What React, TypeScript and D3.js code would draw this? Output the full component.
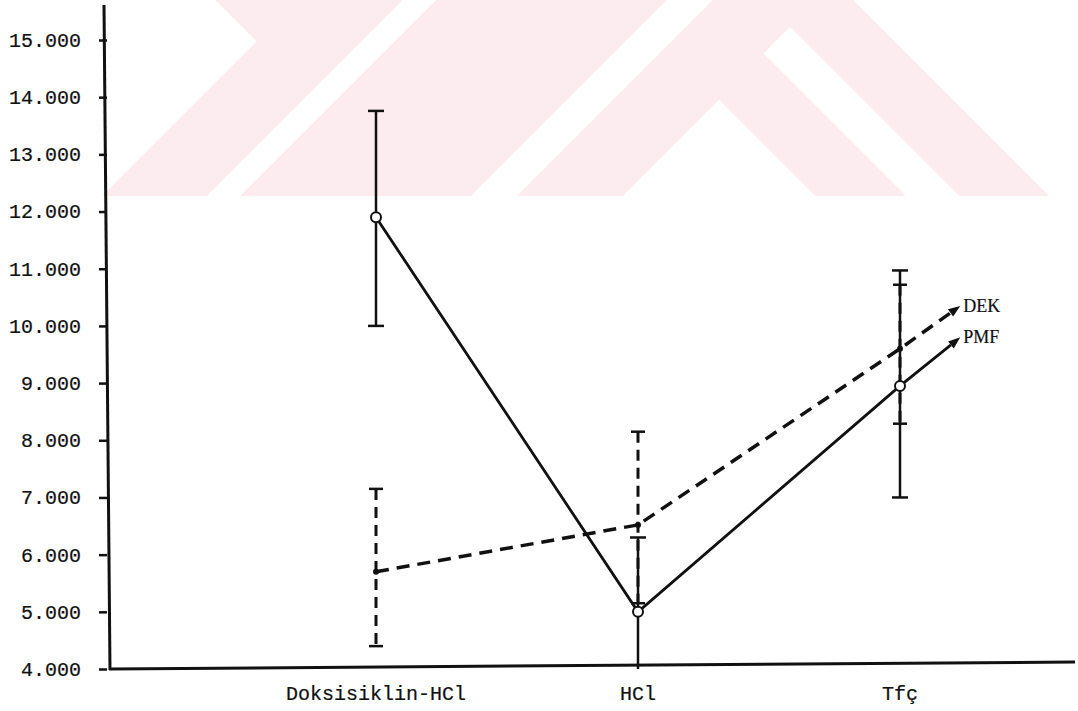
import React, { useEffect, useRef } from "react";
import * as d3 from "d3";

// ---- data ----
const categories = ["Doksisiklin-HCl", "HCl", "Tfç"];
const yTickValues = [4000, 5000, 6000, 7000, 8000, 9000, 10000, 11000, 12000, 13000, 14000, 15000];
const seriesNames = ["DEK", "PMF"];

const pmfMean = [11900, 5000, 8950];
const pmfLow = [10000, 3700, 7000];
const pmfHigh = [13760, 6300, 10970];

const dekMean = [5700, 6520, 9600];
const dekLow = [4400, 5150, 8290];
const dekHigh = [7150, 8150, 10720];

// values where the trend arrows end (past the last category)
const dekTrendEnd = 10350;
const pmfTrendEnd = 9800;

// ---- layout ----
const W = 1078;
const H = 711;
const axisX = 107;
const plotTop = 40;
const plotBottom = 669;
const axisRight = 1075;
const arrowExt = 0.23; // fraction of a category step
const monoFont = "'Liberation Mono', 'DejaVu Sans Mono', monospace";
const serifFont = "'Liberation Serif', 'DejaVu Serif', serif";
const ink = "#111";
const wmColor = "#fcecef";

const trFormat = d3.formatLocale({ decimal: ",", thousands: ".", grouping: [3], currency: ["", ""] }).format(",");

export default function App() {
  const axisRef = useRef<SVGGElement | null>(null);

  const y = d3.scaleLinear().domain([4000, 15000]).range([plotBottom, plotTop]);
  const x = d3.scalePoint<string>().domain(categories).range([376, 900]);
  const xEnd = (x(categories[categories.length - 1]) as number) + x.step() * arrowExt;

  useEffect(() => {
    if (!axisRef.current) return;
    const g = d3.select(axisRef.current);
    g.selectAll("*").remove();
    g.call(
      d3.axisLeft(y).tickValues(yTickValues).tickFormat((d) => trFormat(d as number)).tickSize(8).tickPadding(18)
    );
    g.select(".domain").remove();
    g.selectAll(".tick line").attr("stroke", ink).attr("stroke-width", 2.5);
    g.selectAll(".tick text")
      .attr("fill", ink)
      .attr("font-family", monoFont)
      .attr("font-size", 20)
      .attr("stroke", ink)
      .attr("stroke-width", 0.2);
    g.attr("font-family", null).attr("font-size", null);
  }, []);

  const line = d3.line<[number, number]>().x((d) => d[0]).y((d) => d[1]);

  const pmfPts: [number, number][] = categories.map((c, i) => [x(c) as number, y(pmfMean[i])]);
  const dekPts: [number, number][] = categories.map((c, i) => [x(c) as number, y(dekMean[i])]);

  const clampY = (v: number) => y(Math.max(4000, Math.min(15000, v)));

  const arrowHead = (from: [number, number], to: [number, number], L = 12, w = 4.5) => {
    const a = Math.atan2(to[1] - from[1], to[0] - from[0]);
    const bx = to[0] - L * Math.cos(a);
    const by = to[1] - L * Math.sin(a);
    const nx = -Math.sin(a) * w;
    const ny = Math.cos(a) * w;
    return {
      poly: `${to[0]},${to[1]} ${bx + nx},${by + ny} ${bx - nx},${by - ny}`,
      base: [bx, by] as [number, number],
    };
  };

  const pmfTip: [number, number] = [xEnd, y(pmfTrendEnd)];
  const dekTip: [number, number] = [xEnd, y(dekTrendEnd)];
  const pmfHead = arrowHead(pmfPts[pmfPts.length - 1], pmfTip);
  const dekHead = arrowHead(dekPts[dekPts.length - 1], dekTip);

  const capW = 8;

  return (
    <svg
      width={W}
      height={H}
      viewBox={`0 0 ${W} ${H}`}
      style={{ position: "absolute", left: 0, top: 0, background: "#fff" }}
    >
      <defs>
        <mask id="wmMask">
          <rect x={0} y={0} width={W} height={196} fill="white" />
          <polygon points="403,0 436,0 240,196 207,196" fill="black" />
          <polygon points="667,0 713,0 517,196 471,196" fill="black" />
          <polygon points="719,100 815,196 623,196" fill="black" />
          <polygon points="763.5,53.5 790,27 959,196 906,196" fill="black" />
        </mask>
      </defs>
      {/* watermark */}
      <polygon points="215,0 853,0 1049,196 102,196 256.5,41.5" fill={wmColor} mask="url(#wmMask)" />

      {/* axes */}
      <line x1={axisX - 3} y1={5} x2={axisX + 3} y2={plotBottom + 1} stroke={ink} strokeWidth={3} />
      <line x1={axisX + 2} y1={plotBottom} x2={axisRight} y2={plotBottom - 7} stroke={ink} strokeWidth={3} />
      <g ref={axisRef} transform={`translate(${axisX},0)`} />

      {/* x labels */}
      {categories.map((c) => (
        <text
          key={c}
          x={x(c)}
          y={700}
          textAnchor="middle"
          fontFamily={monoFont}
          fontSize={20}
          fill={ink}
          stroke={ink}
          strokeWidth={0.2}
        >
          {c}
        </text>
      ))}

      {/* DEK error bars (dashed) */}
      {categories.map((c, i) => {
        const cx = x(c) as number;
        return (
          <g key={"dekerr" + c} stroke={ink}>
            <line x1={cx} x2={cx} y1={clampY(dekHigh[i])} y2={clampY(dekLow[i])} strokeWidth={3} strokeDasharray="11,7" />
            <line x1={cx - 7} x2={cx + 7} y1={clampY(dekHigh[i])} y2={clampY(dekHigh[i])} strokeWidth={2.5} />
            <line x1={cx - 7} x2={cx + 7} y1={clampY(dekLow[i])} y2={clampY(dekLow[i])} strokeWidth={2.5} />
          </g>
        );
      })}

      {/* PMF error bars (solid) */}
      {categories.map((c, i) => {
        const cx = x(c) as number;
        return (
          <g key={"pmferr" + c} stroke={ink}>
            <line x1={cx} x2={cx} y1={clampY(pmfHigh[i])} y2={clampY(pmfLow[i])} strokeWidth={2.5} />
            <line x1={cx - capW} x2={cx + capW} y1={clampY(pmfHigh[i])} y2={clampY(pmfHigh[i])} strokeWidth={2.5} />
            {pmfLow[i] >= 4000 && (
              <line x1={cx - capW} x2={cx + capW} y1={clampY(pmfLow[i])} y2={clampY(pmfLow[i])} strokeWidth={2.5} />
            )}
          </g>
        );
      })}

      {/* DEK line (dashed) with arrow */}
      <path
        d={line([...dekPts, dekHead.base]) || ""}
        fill="none"
        stroke={ink}
        strokeWidth={3.5}
        strokeDasharray="13,8"
      />
      <polygon points={dekHead.poly} fill={ink} />

      {/* PMF line (solid) with arrow */}
      <path d={line([...pmfPts, pmfHead.base]) || ""} fill="none" stroke={ink} strokeWidth={2.8} />
      <polygon points={pmfHead.poly} fill={ink} />

      {/* markers */}
      {dekPts.map((p, i) => (
        <circle key={"dk" + i} cx={p[0]} cy={p[1]} r={3} fill={ink} />
      ))}
      {pmfPts.map((p, i) => (
        <circle key={"pm" + i} cx={p[0]} cy={p[1]} r={5} fill="#fff" stroke={ink} strokeWidth={2} />
      ))}

      {/* series labels */}
      <text x={dekTip[0] + 3} y={dekTip[1] + 6} fontFamily={serifFont} fontSize={18} fill={ink} stroke={ink} strokeWidth={0.2}>
        {seriesNames[0]}
      </text>
      <text x={pmfTip[0] + 3} y={pmfTip[1] + 6} fontFamily={serifFont} fontSize={18} fill={ink} stroke={ink} strokeWidth={0.2}>
        {seriesNames[1]}
      </text>
    </svg>
  );
}
